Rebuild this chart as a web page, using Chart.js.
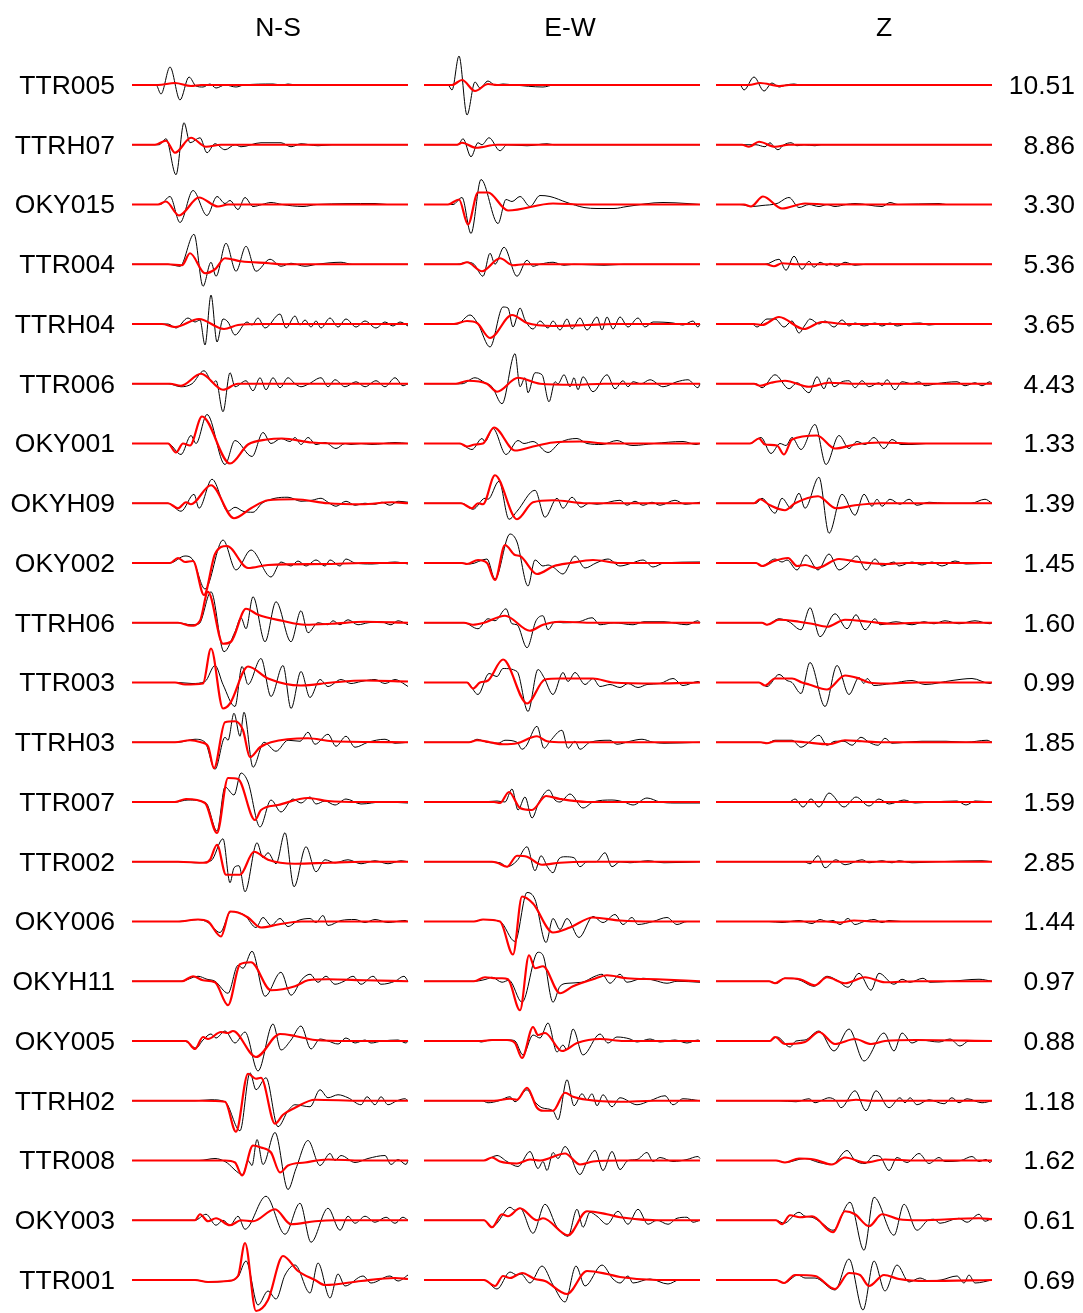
<!DOCTYPE html>
<html>
<head>
<meta charset="utf-8">
<title>Waveform fit</title>
<script src="https://cdn.jsdelivr.net/npm/chart.js@4/dist/chart.umd.min.js"></script>
<style>
  html, body { margin: 0; padding: 0; background: #fff; }
  canvas { display: block; }
</style>
</head>
<body>
<canvas id="waveChart" width="1083" height="1313"></canvas>
<script>
// Stations (top to bottom), amplitude factors and component titles
const stations = ['TTR005', 'TTRH07', 'OKY015', 'TTR004', 'TTRH04', 'TTR006', 'OKY001', 'OKYH09', 'OKY002', 'TTRH06', 'TTR003',
  'TTRH03', 'TTR007', 'TTR002', 'OKY006', 'OKYH11', 'OKY005', 'TTRH02', 'TTR008', 'OKY003', 'TTR001'];
const factors = ['10.51', '8.86', '3.30', '5.36', '3.65', '4.43', '1.33', '1.39', '1.45', '1.60', '0.99',
  '1.85', '1.59', '2.85', '1.44', '0.97', '0.88', '1.18', '1.62', '0.61', '0.69'];
const components = ['N-S', 'E-W', 'Z'];

// Waveforms: pairs of [time sample, amplitude], one list per station
const nsObs = [
  [0,0, 24,0, 29,-9, 38,18, 48,-15, 57,8, 64,-1, 71,-2, 78,1, 84,-3, 93,0, 104,-2, 112,0, 141,1, 150,0, 156,1, 165,0],
  [0,0, 27,0, 34,6, 44,-30, 52,22, 58,2, 68,7, 75,-8, 83,1, 93,-5, 103,0, 109,-2, 129,2, 149,2, 159,-2, 169,1, 186,-1, 200,0],
  [0,0, 28,0, 38,8, 48,-18, 61,14, 75,-11, 85,8, 93,1, 98,4, 106,-5, 113,7, 121,-2, 130,0, 139,2, 150,0, 171,-2, 185,0, 243,1, 255,0],
  [0,0, 36,0, 48,-2, 62,30, 71,-22, 79,2, 84,-12, 94,21, 104,-7, 114,18, 124,-7, 138,5, 149,-2, 159,1, 173,-2, 185,0, 209,2, 220,0],
  [0,0, 36,0, 44,-4, 56,6, 63,2, 68,4, 73,-21, 79,29, 85,-18, 91,5, 96,2, 103,-11, 115,2, 120,-1, 126,6, 133,-4, 148,10, 154,-4, 163,8, 168,-1, 173,4, 179,-3, 184,3, 189,-4, 198,6, 206,-3, 214,5, 224,-3, 233,3, 244,-4, 253,2, 261,-2, 268,2, 276,-2],
  [0,0, 36,0, 49,-3, 60,0, 72,13, 81,1, 84,3, 91,-28, 98,11, 103,-3, 114,3, 121,-7, 128,6, 134,-6, 141,6, 148,-4, 156,6, 163,0, 169,-3, 177,0, 189,6, 196,-3, 203,4, 213,-3, 224,2, 233,-3, 244,3, 253,-3, 263,6, 271,-2, 276,0],
  [0,0, 36,0, 49,-11, 59,8, 64,0, 75,29, 93,-21, 103,3, 120,-13, 131,11, 139,0, 149,5, 158,2, 163,6, 169,-1, 176,6, 184,-1, 193,1, 204,-5, 213,0, 219,-1, 229,0, 240,-1, 263,1, 276,0],
  [0,0, 36,0, 49,-8, 62,9, 67,-5, 80,24, 96,-8, 103,-4, 111,-8, 121,-9, 130,0, 143,5, 156,6, 169,2, 180,3, 189,5, 196,1, 204,-3, 214,2, 223,-2, 233,0, 243,-1, 250,1, 258,-2, 266,2, 276,1],
  [0,0, 38,0, 53,7, 61,3, 73,-26, 91,23, 104,-7, 119,13, 139,-14, 149,1, 159,-3, 166,2, 174,-3, 184,3, 193,-3, 198,3, 208,-3, 214,4, 223,0, 240,-1, 263,1, 276,-1],
  [0,0, 46,0, 59,-2, 67,-1, 79,31, 92,-29, 103,-9, 109,5, 114,-6, 121,26, 133,-19, 144,21, 159,-19, 169,12, 176,-10, 186,0, 196,-2, 201,2, 208,-2, 216,3, 226,-2, 236,0, 249,1, 259,-2, 266,2, 276,-2],
  [0,0, 46,0, 60,-1, 73,1, 83,17, 91,-2, 103,-24, 110,16, 116,-2, 129,24, 139,-14, 151,17, 159,-26, 169,11, 178,-15, 188,3, 196,-4, 209,3, 219,-1, 229,1, 243,3, 253,-1, 263,3, 273,-2, 276,-4],
  [0,0, 46,0, 63,3, 73,0, 83,-27, 93,5, 96,2, 102,29, 108,6, 112,30, 121,-25, 132,0, 144,-9, 156,2, 168,1, 176,10, 183,-2, 196,8, 204,-4, 214,6, 223,-5, 236,0, 253,3, 263,-1, 276,0],
  [0,0, 43,0, 56,2, 74,-1, 85,-29, 93,15, 102,7, 109,29, 116,20, 128,-25, 139,2, 149,-10, 161,3, 169,-1, 178,5, 184,-2, 193,1, 203,-3, 214,3, 229,-2, 250,0, 276,-1],
  [0,0, 46,0, 63,-1, 79,1, 91,23, 98,-21, 102,-6, 107,-4, 113,-30, 125,19, 131,4, 136,9, 144,-2, 153,29, 162,-25, 174,15, 184,-10, 193,2, 203,-1, 216,2, 229,-2, 243,1, 256,-2, 269,1, 276,0],
  [0,0, 46,0, 56,1, 66,2, 76,-1, 88,-11, 99,10, 106,9, 113,6, 124,-6, 131,4, 139,-4, 148,3, 156,-5, 166,1, 178,3, 184,-1, 191,6, 196,-4, 209,1, 223,2, 233,-1, 243,2, 256,-1, 273,1],
  [0,0, 49,0, 66,5, 75,2, 83,0, 96,-12, 106,16, 111,13, 120,30, 133,-15, 149,9, 159,-14, 170,2, 178,7, 186,-1, 194,5, 203,-3, 212,0, 221,5, 229,-3, 241,5, 249,-3, 263,0, 272,5, 276,0],
  [0,0, 52,0, 64,-7, 71,1, 79,7, 84,3, 93,10, 103,-2, 113,9, 126,-30, 141,17, 149,-9, 159,1, 169,15, 179,-8, 188,2, 196,0, 206,-3, 214,3, 223,-2, 233,1, 239,-2, 250,0, 266,1, 274,-2, 276,0],
  [0,0, 63,0, 79,1, 93,-1, 108,-30, 118,28, 124,11, 134,23, 146,-26, 156,-10, 163,-4, 178,-6, 188,11, 196,3, 206,6, 216,3, 229,-4, 235,4, 243,-4, 249,4, 256,-4, 265,0, 273,2, 276,0],
  [0,0, 67,0, 83,2, 93,-1, 111,-14, 116,0, 120,-5, 125,21, 131,-4, 143,28, 156,-29, 164,-8, 176,20, 188,-5, 198,7, 203,0, 209,5, 223,-2, 236,2, 253,5, 259,-4, 266,1, 274,-4, 276,0],
  [0,0, 63,0, 74,6, 84,-5, 91,0, 98,-5, 106,4, 113,-9, 134,24, 153,-14, 168,17, 179,-22, 196,12, 208,-10, 216,4, 223,-3, 233,4, 243,-2, 254,3, 263,-3, 271,3, 276,0],
  [0,0, 63,0, 76,-2, 96,-1, 106,3, 114,19, 126,-25, 136,-11, 144,-19, 153,5, 163,15, 178,-13, 186,17, 198,-18, 206,6, 213,-6, 231,4, 239,-3, 258,4, 266,-1, 276,5]
];
const nsSyn = [
  [0,0, 26,0, 43,2, 59,-1, 69,0],
  [0,0, 23,0, 34,4, 43,-8, 59,7, 74,-2, 89,0],
  [0,0, 26,0, 34,3, 47,-11, 67,7, 86,-2, 96,0],
  [0,0, 36,0, 50,-1, 58,11, 73,-9, 83,-5, 93,6, 109,3, 137,1, 150,0],
  [0,0, 30,0, 43,-3, 67,5, 92,-5, 106,-1, 130,0],
  [0,0, 38,0, 49,-2, 69,10, 91,-6, 106,0],
  [0,0, 36,0, 44,-9, 51,0, 58,-2, 70,27, 98,-20, 116,-1, 135,4, 150,5, 180,1, 213,0],
  [0,0, 36,0, 46,-5, 54,1, 59,-1, 79,18, 102,-15, 119,-5, 136,3, 163,4, 196,0, 230,-1, 260,1, 276,0],
  [0,0, 38,0, 46,5, 53,1, 61,2, 72,-32, 83,9, 95,17, 116,-5, 136,-2, 196,-1, 230,0],
  [0,0, 46,0, 59,-3, 68,2, 76,31, 91,-21, 99,-19, 114,14, 126,8, 150,2, 173,-2, 200,-1, 233,1, 276,0],
  [0,0, 43,0, 53,-2, 71,-1, 79,34, 91,-26, 98,-21, 116,16, 136,4, 169,-3, 200,0, 233,2, 276,1],
  [0,0, 43,0, 58,2, 69,0, 76,-4, 82,-26, 93,20, 103,21, 111,12, 118,-15, 128,-5, 139,0, 176,4, 200,1, 276,0],
  [0,0, 43,0, 54,3, 73,-1, 85,-31, 96,24, 106,23, 123,-18, 129,-8, 146,-3, 176,4, 196,1, 230,0],
  [0,0, 46,0, 73,-1, 78,2, 85,17, 94,-13, 108,-13, 122,10, 136,2, 163,-2, 196,-1, 230,0],
  [0,0, 46,0, 66,2, 76,0, 89,-15, 98,10, 106,9, 116,4, 129,-6, 146,-3, 169,0],
  [0,0, 50,0, 61,5, 71,1, 83,-1, 96,-24, 108,17, 119,19, 139,-9, 163,-5, 176,1, 196,2, 233,1, 276,0],
  [0,0, 54,0, 63,-8, 71,4, 76,2, 89,9, 96,8, 101,10, 124,-16, 148,7, 163,5, 183,1, 220,0],
  [0,0, 70,0, 93,-1, 104,-31, 116,27, 124,22, 129,23, 143,-23, 151,-14, 163,-7, 183,1, 230,0],
  [0,0, 70,0, 93,0, 103,-2, 110,-15, 121,15, 129,13, 139,8, 148,-12, 156,-5, 173,-2, 196,1, 230,0],
  [0,0, 63,0, 68,6, 76,-1, 84,2, 98,-5, 109,0, 121,-1, 143,11, 159,-4, 183,-1, 203,0],
  [0,0, 63,0, 76,-2, 96,-1, 106,4, 113,37, 124,-31, 136,-20, 151,24, 166,9, 183,0, 193,-5, 229,-1, 263,2, 276,1]
];
const ewObs = [
  [0,0, 24,0, 28,-5, 35,29, 43,-30, 51,3, 56,-3, 64,4, 71,0, 79,1, 90,0, 119,-2, 130,0],
  [0,0, 34,0, 39,6, 47,-12, 54,2, 58,0, 65,7, 76,-6, 83,0, 103,-1, 123,1, 130,0],
  [0,0, 29,0, 38,7, 47,-29, 57,25, 74,-19, 82,5, 88,3, 96,8, 106,-2, 116,9, 126,8, 143,2, 160,-3, 173,-4, 190,-4, 203,-2, 239,2, 263,1, 276,0],
  [0,0, 33,0, 43,2, 50,0, 59,-12, 66,11, 71,0, 80,17, 93,-12, 103,4, 109,-2, 116,0, 129,2, 140,-1, 150,0, 180,-1, 200,0],
  [0,0, 33,0, 46,9, 54,0, 66,-23, 79,17, 84,16, 89,-3, 96,16, 101,4, 109,-5, 116,3, 124,-4, 129,3, 136,-6, 143,5, 148,-5, 156,6, 163,-6, 173,7, 178,-6, 183,7, 189,-5, 196,7, 204,-3, 214,6, 221,-3, 229,2, 249,1, 259,-1, 269,3, 274,-3, 276,0],
  [0,0, 38,0, 51,6, 61,1, 68,-3, 78,-20, 91,30, 96,-3, 101,6, 104,-9, 111,11, 118,9, 125,-18, 131,2, 134,0, 140,9, 146,-3, 150,6, 154,-6, 159,7, 169,-8, 183,9, 191,-5, 199,3, 204,-3, 209,2, 217,0, 226,4, 239,-3, 253,2, 264,4, 274,-4, 276,0],
  [0,0, 35,0, 48,-6, 58,5, 61,2, 69,15, 82,-11, 94,3, 100,0, 109,2, 124,-9, 136,1, 153,5, 163,0, 178,-1, 193,3, 203,-1, 209,-2, 230,0, 259,2, 272,-1, 276,0],
  [0,0, 38,0, 49,-6, 61,5, 64,4, 75,22, 85,-16, 93,-8, 111,13, 121,-14, 133,5, 139,-5, 148,6, 157,-4, 165,0, 173,-1, 196,3, 203,-2, 211,2, 219,-2, 228,1, 236,-2, 251,3, 261,-1, 276,1],
  [0,0, 38,0, 46,-1, 63,4, 71,-16, 86,29, 93,21, 104,-23, 111,3, 119,-3, 124,-2, 129,-4, 139,-11, 151,7, 161,-5, 172,0, 184,4, 196,-3, 208,0, 219,3, 229,-4, 240,0, 276,1],
  [0,0, 40,0, 54,-6, 64,4, 71,2, 82,14, 88,-1, 93,-2, 103,-25, 112,2, 119,7, 124,-7, 131,1, 139,0, 155,1, 168,5, 176,-2, 190,0, 209,-2, 220,1, 240,1, 263,-2, 274,2, 276,0],
  [0,0, 43,0, 54,-12, 65,9, 73,6, 79,14, 93,11, 104,-29, 114,13, 120,5, 129,-12, 139,10, 144,1, 151,10, 161,-2, 169,4, 176,-4, 186,-2, 196,-5, 204,-1, 214,-5, 223,-2, 236,-1, 249,4, 259,-3, 274,1],
  [0,0, 46,0, 53,3, 63,0, 74,-1, 81,2, 93,0, 98,-7, 102,-4, 113,16, 120,-6, 126,1, 138,12, 144,-6, 151,1, 156,-7, 166,0, 186,2, 193,-2, 206,1, 218,3, 229,0, 240,-1, 276,0],
  [0,0, 56,0, 73,1, 81,0, 88,13, 94,-8, 101,5, 108,-16, 115,0, 125,12, 131,2, 136,0, 146,8, 159,-6, 169,0, 188,2, 200,0, 209,-3, 223,4, 236,0, 250,-1, 276,-1],
  [0,0, 60,0, 76,-1, 83,-5, 93,1, 103,15, 111,-9, 117,6, 124,-6, 129,-11, 135,3, 141,5, 150,4, 156,-5, 163,0, 172,0, 181,9, 188,-5, 196,0, 206,-1, 224,1, 240,-1, 276,0],
  [0,0, 50,0, 59,2, 76,0, 91,-20, 103,29, 111,22, 122,-21, 129,3, 136,-8, 143,3, 155,-16, 169,5, 179,-1, 191,7, 199,-3, 208,4, 214,-3, 229,0, 243,4, 253,-3, 263,0, 276,0],
  [0,0, 50,0, 62,2, 68,4, 78,-1, 85,1, 98,-21, 114,29, 119,26, 129,-21, 136,-5, 144,-2, 158,-1, 171,5, 178,7, 186,-2, 196,7, 203,-1, 219,3, 230,1, 243,-2, 253,0, 276,-1],
  [0,0, 53,0, 57,-1, 66,1, 86,1, 91,0, 99,-14, 109,6, 116,3, 124,18, 133,-11, 139,-4, 143,-9, 149,12, 159,-14, 176,7, 184,-2, 193,4, 206,2, 213,-1, 226,2, 236,-1, 251,1, 263,-2, 274,1],
  [0,0, 58,0, 64,-2, 75,0, 86,4, 91,-1, 103,11, 110,0, 118,-7, 129,-10, 134,-19, 143,21, 150,-5, 158,7, 163,1, 168,7, 173,-5, 179,6, 188,-6, 196,3, 213,-4, 226,0, 241,5, 249,-4, 259,2, 276,0],
  [0,0, 60,0, 73,5, 83,-1, 94,-6, 106,9, 114,-8, 119,-1, 123,-10, 129,8, 134,2, 141,14, 156,-14, 163,-1, 171,10, 179,-10, 188,9, 196,-9, 204,0, 213,1, 223,8, 229,-1, 236,3, 249,-1, 263,1, 274,4, 276,2],
  [0,0, 60,0, 68,-7, 73,-3, 86,13, 91,10, 96,12, 109,-13, 121,16, 133,-7, 144,-16, 153,11, 159,-7, 166,8, 173,4, 183,-4, 194,9, 204,-4, 214,11, 224,-4, 233,0, 244,-4, 253,2, 263,3, 269,-2, 276,0],
  [0,0, 60,0, 73,-9, 86,8, 93,5, 97,6, 106,-3, 118,14, 129,-5, 141,-22, 152,14, 161,-6, 178,15, 189,1, 196,-3, 204,4, 209,-3, 226,1, 244,-4, 255,0, 276,0]
];
const ewSyn = [
  [0,0, 28,0, 38,5, 51,-6, 64,1, 73,0],
  [0,0, 33,0, 38,2, 52,-3, 73,0],
  [0,0, 24,0, 35,5, 44,-20, 54,12, 64,12, 84,-6, 129,1, 160,0],
  [0,0, 36,0, 43,2, 58,-7, 76,6, 89,-1, 100,0],
  [0,0, 30,0, 43,3, 53,1, 66,-14, 88,9, 103,1, 129,-2, 163,-1, 190,0],
  [0,0, 32,0, 44,3, 63,0, 73,-8, 94,6, 116,0, 150,-1, 180,0],
  [0,0, 36,0, 43,-3, 51,-1, 59,0, 70,16, 91,-7, 109,-3, 129,1, 156,2, 183,0],
  [0,0, 37,0, 48,-5, 54,0, 59,-1, 71,28, 93,-16, 109,1, 129,3, 163,0],
  [0,0, 38,0, 43,-1, 54,3, 63,0, 71,-17, 81,18, 91,8, 96,7, 113,-11, 130,-3, 146,0, 169,3, 196,0],
  [0,0, 40,0, 49,-2, 60,0, 81,7, 106,-8, 119,-2, 136,1, 170,0],
  [0,0, 43,0, 49,-6, 56,0, 64,2, 79,23, 103,-21, 121,3, 136,4, 169,4, 189,0, 233,-1, 276,0],
  [0,0, 45,0, 53,2, 66,0, 79,-2, 93,-1, 113,6, 123,1, 140,0],
  [0,0, 70,0, 76,-1, 85,10, 96,-6, 108,-8, 122,6, 136,3, 163,0],
  [0,0, 68,0, 73,-1, 83,-5, 93,6, 103,5, 118,-3, 136,-1, 163,0],
  [0,0, 50,0, 59,2, 76,0, 89,-33, 98,25, 109,18, 129,-11, 146,-6, 169,4, 196,1, 230,0],
  [0,0, 50,0, 61,4, 72,3, 78,3, 84,2, 96,-29, 105,26, 111,13, 119,15, 136,-12, 149,-5, 169,2, 183,6, 203,3, 233,2, 276,0],
  [0,0, 58,0, 68,1, 83,1, 91,-2, 98,-17, 109,14, 114,6, 121,8, 138,-10, 153,-2, 176,2, 200,0],
  [0,0, 70,0, 86,2, 93,1, 103,13, 113,-7, 119,-10, 129,-10, 141,8, 149,4, 163,1, 196,-1, 230,0],
  [0,0, 60,0, 68,3, 76,-1, 93,-3, 106,1, 116,0, 141,7, 156,-4, 169,-1, 196,0],
  [0,0, 60,0, 68,-7, 78,6, 84,4, 96,12, 113,0, 119,2, 144,-15, 163,9, 183,6, 196,3, 233,0],
  [0,0, 60,0, 71,-6, 79,4, 86,2, 98,7, 111,1, 121,-1, 143,-14, 163,9, 183,6, 196,3, 233,0]
];
const zObs = [
  [0,0, 24,0, 28,-5, 38,8, 48,-6, 56,2, 63,-2, 70,0, 78,1, 85,0],
  [0,0, 40,0, 49,-2, 54,2, 58,-2, 62,-5, 68,0, 75,2, 81,-1, 88,0, 99,-1, 105,0],
  [0,0, 24,0, 36,-2, 46,-1, 61,1, 73,7, 83,-3, 93,0, 103,-2, 111,0, 119,-2, 130,0, 139,1, 166,-2, 174,2, 182,0, 223,1, 230,0],
  [0,0, 49,0, 63,5, 70,-6, 78,8, 86,-5, 93,3, 98,-3, 104,2, 111,-1, 114,1, 121,-2, 129,2, 139,-1, 150,0],
  [0,0, 36,0, 41,-3, 51,5, 59,5, 68,-3, 76,3, 83,-9, 89,-1, 94,5, 103,0, 109,3, 118,-3, 126,4, 133,-2, 139,1, 148,-2, 159,1, 166,-2, 174,1, 181,-2, 190,0, 204,1, 213,-1, 225,0],
  [0,0, 40,0, 46,-4, 59,9, 73,-5, 81,1, 93,-9, 101,7, 108,-5, 113,6, 118,-3, 126,2, 133,3, 139,-4, 146,3, 153,-3, 163,1, 166,-2, 171,4, 179,-6, 186,2, 196,0, 203,2, 209,-2, 220,0, 241,2, 249,-2, 259,1, 266,-2, 274,2, 276,0],
  [0,0, 34,0, 45,6, 55,-10, 64,0, 70,-2, 76,6, 85,-6, 99,19, 110,-21, 123,8, 133,-5, 141,2, 149,-1, 158,6, 168,-5, 176,4, 185,-1, 196,-1, 210,0],
  [0,0, 40,0, 46,5, 59,-10, 66,5, 75,-5, 83,10, 89,-5, 103,26, 113,-30, 126,9, 139,-12, 148,9, 156,-3, 161,4, 166,-3, 174,4, 184,-1, 193,4, 201,-2, 213,1, 230,0, 255,0, 269,4, 276,0],
  [0,0, 40,0, 46,-3, 59,4, 66,1, 71,3, 81,-7, 90,8, 102,-7, 113,9, 123,-7, 131,-2, 141,7, 150,-7, 159,4, 166,-3, 178,1, 183,-3, 196,1, 206,-2, 216,1, 226,-3, 239,2, 250,-1, 276,0],
  [0,0, 46,0, 51,-2, 63,4, 73,1, 85,-7, 94,15, 104,-14, 119,9, 131,-6, 140,8, 149,-7, 159,4, 164,-2, 180,1, 196,-2, 208,1, 218,-1, 229,2, 243,-1, 259,2, 274,-1],
  [0,0, 43,0, 51,-4, 63,8, 71,2, 76,0, 85,-11, 94,20, 109,-24, 121,17, 133,-12, 143,5, 148,-1, 151,4, 158,-3, 175,-1, 196,2, 209,-2, 236,2, 256,4, 274,-1],
  [0,0, 43,0, 51,-1, 59,2, 76,2, 85,-5, 93,0, 103,7, 111,-3, 119,1, 128,1, 136,-3, 145,5, 153,0, 162,-3, 169,4, 176,-1, 190,0, 206,1, 230,1, 250,0, 271,2, 276,0],
  [0,0, 60,0, 73,0, 79,3, 87,-5, 95,3, 103,-5, 113,9, 128,-5, 140,5, 153,-4, 163,3, 173,-2, 188,2, 199,-1, 215,0, 241,1, 250,-3, 259,1, 276,0],
  [0,0, 88,0, 94,-2, 102,6, 109,-6, 120,2, 129,-3, 146,2, 153,-1, 166,1, 176,-1, 183,1, 196,-1, 220,0, 266,1, 276,0],
  [0,0, 53,0, 66,-1, 83,1, 96,-2, 104,2, 111,0, 117,1, 124,-3, 132,3, 139,-3, 148,0, 158,2, 166,-1, 173,1, 185,0, 276,0],
  [0,0, 53,0, 61,-2, 68,3, 76,3, 84,1, 98,-5, 111,5, 121,1, 132,-6, 143,8, 155,-9, 163,8, 178,-3, 186,2, 194,-1, 207,3, 214,-1, 235,0, 263,2, 276,0],
  [0,0, 53,0, 61,4, 74,-6, 80,0, 89,1, 103,10, 118,-10, 133,12, 148,-20, 168,8, 178,-10, 186,8, 196,-2, 204,1, 223,-1, 234,2, 244,-5, 253,0, 276,0],
  [0,0, 63,0, 80,-1, 93,2, 99,-2, 107,1, 113,3, 120,0, 125,-7, 139,10, 150,-10, 160,10, 173,-7, 184,3, 189,-2, 194,3, 201,-4, 213,1, 228,-3, 236,3, 243,-2, 251,2, 266,-2, 276,0],
  [0,0, 60,0, 69,-2, 89,2, 103,-2, 116,-4, 131,10, 139,0, 149,-3, 158,5, 164,4, 173,-10, 181,3, 191,-2, 203,7, 213,-3, 223,3, 229,-1, 245,0, 256,4, 263,-1, 270,1, 274,-2, 276,0],
  [0,0, 60,0, 68,-3, 83,8, 89,4, 96,3, 106,-3, 117,-10, 134,18, 148,-30, 158,23, 178,-15, 188,16, 201,-10, 212,0, 218,1, 224,-3, 243,2, 251,-2, 263,6, 269,-1, 276,2],
  [0,0, 60,0, 68,-3, 82,5, 89,2, 99,2, 119,-10, 133,21, 147,-30, 158,19, 169,-11, 181,15, 193,-2, 204,2, 213,-1, 225,0, 241,4, 248,-3, 253,5, 259,-3, 276,0]
];
const zSyn = [
  [0,0, 33,0, 44,2, 64,-1, 73,0],
  [0,0, 26,0, 33,-2, 43,3, 59,-2, 73,0],
  [0,0, 28,0, 35,-2, 47,8, 66,-4, 89,1, 113,0],
  [0,0, 50,0, 58,-2, 66,1, 80,0],
  [0,0, 38,0, 46,-1, 63,7, 88,-5, 106,2, 130,0],
  [0,0, 38,0, 44,-2, 55,1, 69,3, 93,-3, 113,1, 140,0],
  [0,0, 34,0, 43,5, 49,-1, 61,-2, 68,-11, 76,4, 101,8, 119,-5, 139,-1, 165,1, 200,0],
  [0,0, 38,0, 44,4, 54,-2, 69,-7, 79,0, 102,7, 120,-5, 139,-2, 165,0],
  [0,0, 40,0, 46,-3, 58,2, 72,5, 81,-3, 89,-2, 101,-5, 123,4, 143,1, 170,-1, 190,0],
  [0,0, 46,0, 51,-2, 63,3, 83,1, 96,-1, 111,-4, 129,3, 153,1, 175,-1, 200,0],
  [0,0, 43,0, 49,-3, 59,4, 76,4, 86,0, 93,-2, 111,-7, 129,7, 143,4, 153,0, 170,-1, 200,0],
  [0,0, 45,0, 51,-1, 59,1, 76,1, 89,0, 113,-2, 129,2, 146,1, 165,0],
  [0,0, 276,0],
  [0,0, 276,0],
  [0,0, 110,0, 124,-1, 138,1, 160,0],
  [0,0, 53,0, 59,-2, 69,3, 84,2, 99,-4, 111,4, 129,-2, 149,4, 169,-1, 200,0],
  [0,0, 54,0, 59,4, 69,-3, 89,-1, 103,9, 119,-3, 139,2, 155,-3, 169,0, 200,1, 276,0],
  [0,0, 130,0, 140,1, 155,0],
  [0,0, 60,0, 69,-2, 83,2, 98,1, 116,-4, 129,3, 149,-2, 169,1, 200,0],
  [0,0, 60,0, 66,-4, 74,5, 84,3, 96,4, 117,-12, 129,9, 139,6, 153,-6, 166,6, 183,1, 203,0, 263,2, 276,1],
  [0,0, 60,0, 68,-3, 79,5, 99,4, 119,-9, 133,7, 144,5, 153,-6, 168,5, 183,1, 210,-1, 276,0]
];

// layout of the panel grid (in pixels)
const ROW0 = 85, ROW_STEP = 59.75, PANEL_W = 276, PANEL_GAP = 16;
const headerAt = [146, 438, 752];
const FONT = { family: "'Liberation Sans', Arial, Helvetica, sans-serif", size: 26.5 };

function rowBase(r) { return -(ROW0 + r * ROW_STEP); }

function toPoints(flat, row, col) {
  const x0 = col * (PANEL_W + PANEL_GAP);
  const base = rowBase(row);
  const pts = [];
  for (let i = 0; i < flat.length; i += 2) {
    pts.push({ x: x0 + flat[i], y: base + flat[i + 1] });
  }
  if (flat[flat.length - 2] < PANEL_W) pts.push({ x: x0 + PANEL_W, y: base });
  return pts;
}

const observed = [nsObs, ewObs, zObs];
const synthetic = [nsSyn, ewSyn, zSyn];
const datasets = [];
components.forEach((c, col) => {
  stations.forEach((s, row) => {
    datasets.push({
      label: s + ' ' + c + ' obs',
      data: toPoints(observed[col][row], row, col),
      borderColor: '#000000',
      borderWidth: 1,
      order: 1
    });
    datasets.push({
      label: s + ' ' + c + ' syn',
      data: toPoints(synthetic[col][row], row, col),
      borderColor: '#ff0000',
      borderWidth: 2.2,
      order: 0
    });
  });
});

const rowTicks = scale => { scale.ticks = stations.map((s, i) => ({ value: rowBase(i) })); };
// keep Chart.js from reserving extra room for the outermost labels
const noEdgePad = scale => {
  scale.paddingTop = 0; scale.paddingBottom = 0;
  scale.paddingLeft = 0; scale.paddingRight = 0;
};

const ctx = document.getElementById('waveChart').getContext('2d');
const waveChart = new Chart(ctx, {
  type: 'line',
  data: { datasets: datasets },
  options: {
    responsive: false,
    animation: false,
    events: [],
    layout: { padding: { left: 0, right: 8, top: 0, bottom: 0 } },
    elements: {
      point: { radius: 0 },
      line: { cubicInterpolationMode: 'monotone', fill: false, borderJoinStyle: 'round' }
    },
    plugins: { legend: { display: false }, tooltip: { enabled: false } },
    scales: {
      x: {
        type: 'linear',
        position: 'top',
        min: 0,
        max: 3 * PANEL_W + 2 * PANEL_GAP,
        grid: { display: false, drawTicks: false },
        border: { display: false },
        afterBuildTicks: scale => { scale.ticks = headerAt.map(v => ({ value: v })); },
        afterFit: scale => { scale.height = 50; noEdgePad(scale); },
        ticks: {
          autoSkip: false,
          maxRotation: 0,
          padding: 5,
          color: '#000',
          font: FONT,
          callback: (v, i) => components[i]
        }
      },
      y: {
        type: 'linear',
        position: 'left',
        min: -1313,
        max: -50,
        grid: { display: false, drawTicks: false },
        border: { display: false },
        afterBuildTicks: rowTicks,
        afterFit: scale => { scale.width = 132; noEdgePad(scale); },
        ticks: {
          autoSkip: false,
          padding: 17,
          labelOffset: 1.5,
          color: '#000',
          font: FONT,
          callback: (v, i) => stations[i]
        }
      },
      y2: {
        type: 'linear',
        position: 'right',
        min: -1313,
        max: -50,
        grid: { display: false, drawTicks: false },
        border: { display: false },
        afterBuildTicks: rowTicks,
        afterFit: scale => { scale.width = 83; noEdgePad(scale); },
        ticks: {
          autoSkip: false,
          crossAlign: 'far',
          labelOffset: 1.5,
          color: '#000',
          font: FONT,
          callback: (v, i) => factors[i]
        }
      }
    }
  }
});
</script>
</body>
</html>
